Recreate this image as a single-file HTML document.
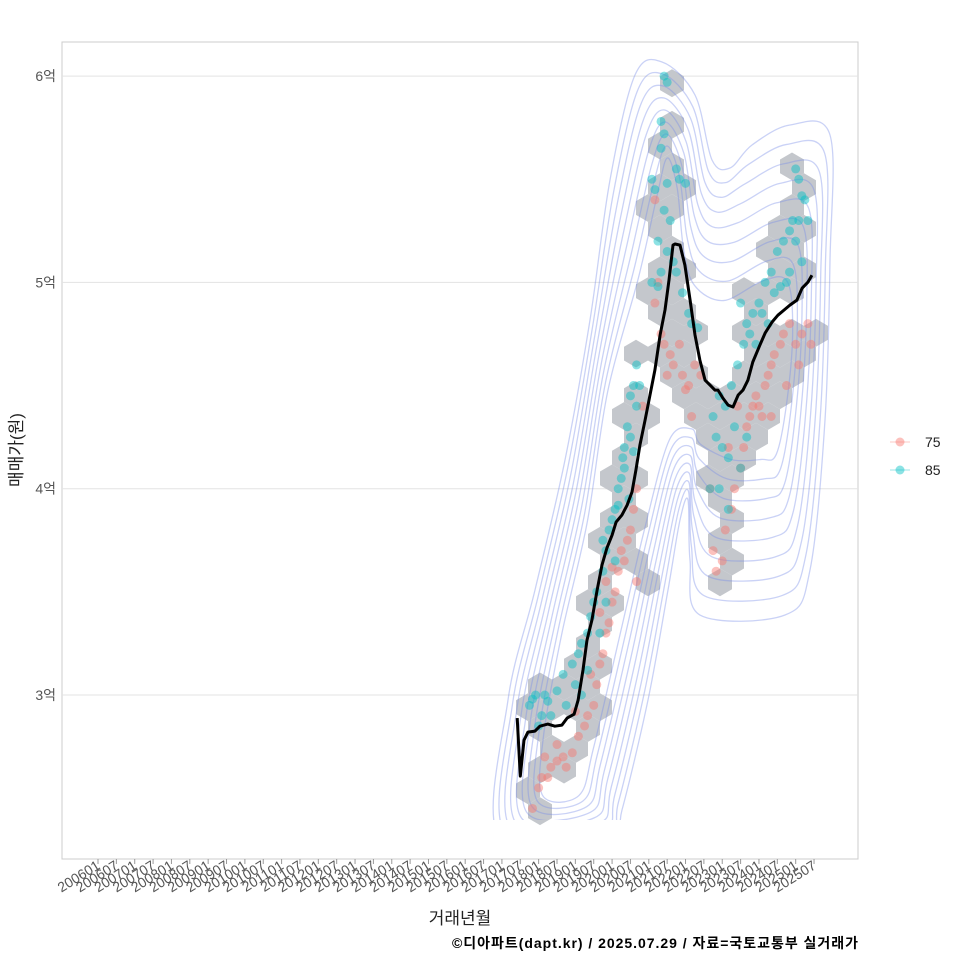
<!DOCTYPE html>
<html><head><meta charset="utf-8"><style>
body{margin:0;background:#fff;}
svg{display:block;font-family:"Liberation Sans","Noto Sans CJK KR",sans-serif;}
</style></head><body>
<svg id="c" width="960" height="960">
<rect x="62" y="42" width="796" height="817" fill="#fff" stroke="#cccccc"/>
<g id="grid"></g><g id="hex"></g>
<g id="cont" clip-path="url(#clp)"></g><g id="pts"></g><g id="ln"></g><g id="ax"></g>
<defs><clipPath id="clp"><rect x="62" y="42" width="796" height="778"/></clipPath></defs>
<text x="460" y="924" text-anchor="middle" font-size="17" fill="#222">거래년월</text>
<text transform="translate(22,450) rotate(-90)" text-anchor="middle" font-size="17" fill="#222">매매가(원)</text>
<text x="858" y="948" text-anchor="end" font-size="14" font-weight="bold" fill="#000" textLength="406">©디아파트(dapt.kr) / 2025.07.29 / 자료=국토교통부 실거래가</text>
<g>
<g><line x1="890" y1="442" x2="910" y2="442" stroke="#F8766D" stroke-opacity="0.4"/><circle cx="900" cy="442" r="4.5" fill="#F8766D" fill-opacity="0.45"/><text x="925" y="447" font-size="14" fill="#222">75</text></g>
<g><line x1="890" y1="470" x2="910" y2="470" stroke="#00BFC4" stroke-opacity="0.4"/><circle cx="900" cy="470" r="4.5" fill="#00BFC4" fill-opacity="0.45"/><text x="925" y="475" font-size="14" fill="#222">85</text></g>
</g>
</svg>
<script>
const yTicks=[3,4,5,6];
const yTickLabels=["3억","4억","5억","6억"];
const lineMonths=[137,138,139.2,140.5,142.8,144.4,147,149.3,151.6,153.3,155.6,156.9,158.5,159.8,161.4,163.1,164.7,166.3,168,169.3,171.2,172.9,174.5,175.8,177.1,178.8,180.4,182,183.7,185.3,186.6,187.9,188.6,190.2,191.8,193.5,195.1,196.7,198.4,200,201.6,202.6,204.2,205.9,207.5,209.2,210.8,212.4,214,216.3,218,220.3,222.2,224.2,226.1,228.4,230.1,232,233.3];
const linePrices=[2.888,2.607,2.781,2.82,2.825,2.849,2.859,2.849,2.854,2.888,2.907,2.975,3.121,3.266,3.363,3.508,3.63,3.712,3.775,3.838,3.872,3.92,3.984,4.09,4.211,4.333,4.454,4.575,4.745,4.866,5.011,5.181,5.186,5.181,5.084,4.914,4.745,4.623,4.526,4.502,4.478,4.478,4.439,4.405,4.396,4.454,4.478,4.526,4.614,4.696,4.754,4.808,4.841,4.866,4.89,4.914,4.972,5.001,5.035];
const teal=[[141,2.95],[142,2.98],[143,3.0],[145,2.9],[146,3.0],[147,2.97],[150,3.02],[152,3.1],[155,3.15],[157,3.2],[158,3.25],[160,3.3],[161,3.38],[162,3.45],[163,3.5],[165,3.6],[166,3.7],[167,3.8],[168,3.85],[169,3.9],[170,4.0],[171,4.05],[171.5,4.15],[172,4.2],[173,4.3],[174,4.45],[175,4.5],[176,4.6],[173.5,3.95],[169,3.65],[166,3.45],[164,3.3],[156,3.05],[153,2.95],[148,2.9],[144,2.85],[172,4.1],[174,4.25],[170,3.92],[165,3.75],[160,3.12],[158,3.0],[176,4.4],[177,4.5],[175,4.18],
[185,6.0],[186,5.97],[184,5.78],[185,5.72],[184,5.65],[181,5.5],[182,5.45],[186,5.48],[189,5.55],[190,5.5],[192,5.48],[185,5.35],[187,5.3],[183,5.2],[186,5.15],[188,5.1],[184,5.05],[181,5.0],[183,4.98],[189,5.05],[191,4.95],[193,4.85],[194,4.8],[196,4.78],
[228,5.55],[229,5.5],[230,5.42],[231,5.4],[227,5.3],[229,5.3],[224,5.2],[226,5.25],[222,5.15],[220,5.05],[218,5.0],[221,4.95],[223,4.98],[225,5.0],[216,4.9],[214,4.85],[212,4.8],[210,4.9],[213,4.75],[215,4.7],[217,4.85],[219,4.8],[211,4.7],[209,4.6],[207,4.5],[205,4.4],[203,4.45],[201,4.35],[202,4.25],[204,4.2],[206,4.15],[208,4.3],[212,4.25],[200,4.0],[203,4.0],[210,4.1],[206,3.9],[232,5.3],[230,5.1],[228,5.2],[226,5.05]];
const red=[[142,2.45],[144,2.55],[145,2.6],[147,2.6],[148,2.65],[150,2.68],[152,2.7],[153,2.65],[155,2.72],[157,2.8],[159,2.85],[160,2.9],[162,2.95],[163,3.05],[164,3.15],[165,3.2],[166,3.3],[167,3.35],[168,3.45],[169,3.5],[170,3.6],[172,3.65],[173,3.75],[174,3.8],[175,3.9],[176,4.0],[171,3.7],[168,3.62],[166,3.55],[164,3.4],[161,3.1],[156,2.92],[150,2.76],[146,2.7],[176,3.55],[178,4.4],
[182,5.4],[183,5.0],[182,4.9],[184,4.75],[185,4.7],[187,4.65],[188,4.6],[190,4.7],[191,4.55],[193,4.5],[195,4.6],[186,4.55],[192,4.48],[194,4.35],[197,4.55],
[200,4.0],[201,3.7],[202,3.6],[204,3.65],[205,3.8],[207,3.9],[208,4.0],[210,4.1],[211,4.2],[212,4.3],[213,4.35],[214,4.4],[215,4.45],[216,4.4],[217,4.35],[218,4.5],[219,4.55],[220,4.6],[221,4.65],[223,4.7],[224,4.75],[226,4.8],[228,4.7],[230,4.75],[232,4.8],[233,4.7],[229,4.6],[206,4.2],[209,4.4],[220,4.35],[225,4.5]];
const NS='http://www.w3.org/2000/svg';
const X=m=>98+m*3.06, Y=v=>695-(v-3)*206.3;
function mk(t,a,p){const e=document.createElementNS(NS,t);for(const k in a)e.setAttribute(k,a[k]);p.appendChild(e);return e;}
const grid=document.getElementById('grid'),ax=document.getElementById('ax');
yTicks.forEach((v,i)=>{
 const l=mk('line',{x1:62,x2:858,y1:Y(v),y2:Y(v),stroke:'#e3e3e3'},grid);
 
 
 const t=mk('text',{x:56,y:Y(v)+5,'text-anchor':'end','font-size':14,fill:'#555'},ax);
 t.textContent=yTickLabels[i];
 
 
});
for(let k=0;k<40;k++){
 const m=k*6,x=X(m);
 mk('line',{x1:x,x2:x,y1:859,y2:864,stroke:'#999'},ax);
 const lab=(2006+Math.floor(m/12))+(m%12==0?'01':'07');
 const t=mk('text',{transform:`translate(${x+3},${868}) rotate(-32)`,'text-anchor':'end','font-size':14,fill:'#555'},ax);
 t.textContent=lab;
 
 
}
const R=13.86,dx=24,dy=20.8,bins={};
teal.concat(red).forEach(([m,v])=>{
 const px=X(m),py=Y(v);let best=null,bd=1e9;
 const r0=Math.round(py/dy);
 for(let r=r0-1;r<=r0+1;r++){const off=(r%2)?dx/2:0;const c=Math.round((px-off)/dx);
  for(let cc=c-1;cc<=c+1;cc++){const cx=cc*dx+off,cy=r*dy,d=(cx-px)**2+(cy-py)**2;if(d<bd){bd=d;best=[cx,cy];}}}
 bins[best.join(',')]=best;
});
const hg=document.getElementById('hex');
Object.values(bins).forEach(([cx,cy])=>{
 let p=[];for(let i=0;i<6;i++){const a=Math.PI/3*i+Math.PI/6;p.push((cx+R*Math.cos(a)).toFixed(1)+','+(cy+R*Math.sin(a)).toFixed(1));}
 const h=mk('polygon',{points:p.join(' '),fill:'#c4c7cc'},hg);
 
 
});
const outer=[[500,840],[508,700],[535,590],[565,460],[590,320],[610,180],[635,75],[662,62],[695,95],[712,160],[730,168],[752,145],[790,125],[830,135],[830,260],[825,420],[810,570],[785,615],[700,615],[690,560],[688,500],[680,520],[668,590],[648,700],[622,810],[610,840]];
const inner=[[548,790],[548,740],[565,640],[590,530],[610,400],[642,290],[660,210],[668,170],[675,200],[680,260],[690,300],[720,320],[760,300],[782,300],[788,340],[782,400],[772,440],[758,440],[735,440],[702,430],[692,420],[668,430],[642,520],[618,620],[590,740],[575,790]];
const cg=document.getElementById('cont');
function smooth(pts){let d='M'+pts[0].join(',');const n=pts.length;
 for(let i=0;i<n;i++){const p0=pts[(i-1+n)%n],p1=pts[i],p2=pts[(i+1)%n],p3=pts[(i+2)%n];
  d+=` C${p1[0]+(p2[0]-p0[0])/6},${p1[1]+(p2[1]-p0[1])/6} ${p2[0]-(p3[0]-p1[0])/6},${p2[1]-(p3[1]-p1[1])/6} ${p2[0]},${p2[1]}`;}
 return d+'Z';}
for(let k=0;k<9;k++){const t=k/9;
 const pts=outer.map((p,i)=>[p[0]+(inner[i][0]-p[0])*t,p[1]+(inner[i][1]-p[1])*t]);
 const c=mk('path',{d:smooth(pts),fill:'none',stroke:'#7b8ee8','stroke-opacity':0.4,'stroke-width':1.3},cg);
 
 
}
const pg=document.getElementById('pts');
[[red,'#F8766D','point-75'],[teal,'#00BFC4','point-85']].forEach(([arr,col,nm])=>arr.forEach(([m,v])=>{
 const c=mk('circle',{cx:X(m),cy:Y(v),r:4.5,fill:col,'fill-opacity':0.45},pg);
 
 
}));
const ln=mk('path',{d:lineMonths.map((m,i)=>(i?'L':'M')+X(m).toFixed(1)+','+Y(linePrices[i]).toFixed(1)).join(''),fill:'none',stroke:'#000','stroke-width':3,'stroke-linejoin':'round'},document.getElementById('ln'));


</script>
</body></html>
